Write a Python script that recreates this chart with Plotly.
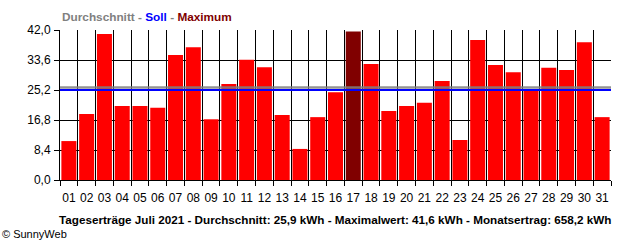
import plotly.graph_objects as go

days = [f"{d:02d}" for d in range(1, 32)]
yields = [10.9, 18.5, 40.9, 20.7, 20.7, 20.2, 35.0, 37.2, 17.0, 26.9,
          33.7, 31.6, 18.2, 8.7, 17.6, 24.6, 41.6, 32.5, 19.3, 20.7,
          21.6, 27.7, 11.2, 39.2, 32.2, 30.2, 25.5, 31.4, 30.8, 38.6, 17.6]
average = 25.9
soll = 25.2
y_ticks = [0, 8.4, 16.8, 25.2, 33.6, 42.0]
title_text = ("Tageserträge Juli 2021 - Durchschnitt: 25,9 kWh - "
              "Maximalwert: 41,6 kWh - Monatsertrag: 658,2 kWh")

xs = list(range(1, len(days) + 1))
max_val = max(yields)
colors = ["#800000" if v == max_val else "#ff0000" for v in yields]

FONT = "Liberation Sans, Arial, sans-serif"

fig = go.Figure()
fig.add_trace(go.Bar(x=xs, y=yields, marker=dict(color=colors, line=dict(width=0)),
                     width=0.845, hoverinfo="skip"))

fig.add_shape(type="line", xref="paper", x0=0, x1=1, y0=average, y1=average,
              line=dict(color="rgba(128,128,128,0.85)", width=2.5), layer="above")
fig.add_shape(type="line", xref="paper", x0=0, x1=1, y0=soll, y1=soll,
              line=dict(color="#0000ff", width=2), layer="above")

fig.update_layout(
    width=640, height=240,
    margin=dict(l=60, r=29, t=30, b=60),
    paper_bgcolor="white", plot_bgcolor="white",
    separators=",.",
    showlegend=False,
    font=dict(family=FONT, size=12, color="black"),
)
fig.update_xaxes(
    range=[0.5, len(days) + 0.5],
    tickvals=xs, ticktext=days, ticks="", showgrid=False,
    tickfont=dict(family=FONT, size=12, color="black"),
    ticklabelstandoff=7,
    showline=True, linecolor="black", linewidth=1,
    minor=dict(tickvals=[i + 0.5 for i in range(0, len(days) + 1)],
               showgrid=True, gridcolor="black", gridwidth=1,
               ticks="outside", ticklen=5, tickcolor="black", tickwidth=1),
    zeroline=False, fixedrange=True,
)
fig.update_yaxes(
    range=[0, 42], tickvals=y_ticks, tickformat=".1f",
    showgrid=True, gridcolor="black", gridwidth=1,
    ticks="outside", ticklen=5, tickcolor="black", tickwidth=1,
    showline=True, linecolor="black", linewidth=1,
    tickfont=dict(family=FONT, size=12, color="black"),
    ticklabelstandoff=1,
    zeroline=False, fixedrange=True,
)

fig.add_annotation(
    xref="paper", yref="paper", x=0, y=1, xanchor="left", yanchor="bottom", yshift=4,
    showarrow=False,
    text=("<b><span style='color:#808080'>Durchschnitt - </span>"
          "<span style='color:#0000ff'>Soll</span>"
          "<span style='color:#808080'> - </span>"
          "<span style='color:#800000'>Maximum</span></b>"),
    font=dict(family=FONT, size=11.8),
)
fig.add_annotation(
    xref="paper", yref="paper", x=0.5, y=0, xanchor="center", yanchor="top", yshift=-31,
    showarrow=False, text=f"<b>{title_text}</b>",
    font=dict(family=FONT, size=11.7, color="black"),
)
fig.add_annotation(
    xref="paper", yref="paper", x=-60 / 551, y=0, xanchor="left", yanchor="top", yshift=-46,
    showarrow=False, text="© SunnyWeb",
    font=dict(family=FONT, size=11, color="black"),
)

fig.write_html("out.html")
